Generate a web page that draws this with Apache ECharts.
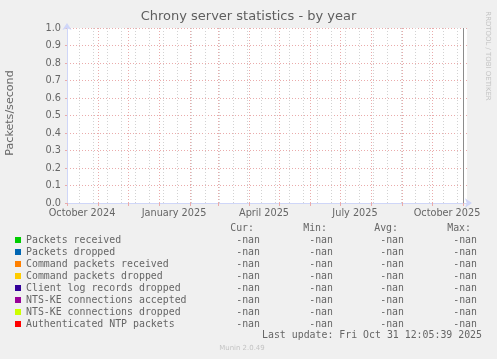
<!DOCTYPE html>
<html><head><meta charset="utf-8">
<script src="https://cdn.jsdelivr.net/npm/echarts@6/dist/echarts.min.js"></script>
<style>html,body{margin:0;padding:0;background:#f0f0f0;}#c{width:497px;height:359px;}</style>
</head><body><div id="c"></div>
<script>
// ---- data ----
const seriesNames = ['Packets received','Packets dropped','Command packets received','Command packets dropped','Client log records dropped','NTS-KE connections accepted','NTS-KE connections dropped','Authenticated NTP packets'];
const seriesColors = ['#00CC00','#0066B3','#FF8000','#FFCC00','#330099','#990099','#CCFF00','#FF0000'];
const curValues = [NaN,NaN,NaN,NaN,NaN,NaN,NaN,NaN];
const minValues = [NaN,NaN,NaN,NaN,NaN,NaN,NaN,NaN];
const avgValues = [NaN,NaN,NaN,NaN,NaN,NaN,NaN,NaN];
const maxValues = [NaN,NaN,NaN,NaN,NaN,NaN,NaN,NaN];
const columnHeaders = ['Cur:','Min:','Avg:','Max:'];
const xStart = '2024-10-01';
const xDays = 400;
const tickDates = ['2024-10-16','2025-01-16','2025-04-16','2025-07-16','2025-10-16'];
const tickLabels = ['October 2024','January 2025','April 2025','July 2025','October 2025'];
const minorGridStart = '2024-10-13';
const minorGridStepDays = 14;
const vruleDate = '2025-11-01';
const yMin = 0, yMax = 1, yStep = 0.1;
const titleText = 'Chrony server statistics - by year';
const yName = 'Packets/second';
const lastUpdate = 'Last update: Fri Oct 31 12:05:39 2025';
const watermark = 'RRDTOOL / TOBI OETIKER';
const footer = 'Munin 2.0.49';

// ---- build ----
const DAY = 86400000;
const days = [];
const t0 = Date.parse(xStart + 'T00:00:00Z');
for (let i = 0; i <= xDays; i++) days.push(new Date(t0 + i * DAY).toISOString().slice(0, 10));
const labelMap = {};
tickDates.forEach((d, i) => labelMap[d] = tickLabels[i]);
const fmt = v => (isNaN(v) ? '-nan' : v.toFixed(2));
const isMinor = (i, v) => { const d = (Date.parse(v + 'T00:00:00Z') - Date.parse(minorGridStart + 'T00:00:00Z')) / DAY; return d >= 0 && d % minorGridStepDays === 0; };
const isMonth = (i, v) => v.slice(8) === '01';

const FONT = 'DejaVu Sans';
const MONO = 'DejaVu Sans Mono';
const TXT = '#666666';
const AXIS = '#CFD6F8';
const MAJOR = '#eaabab';
const MINOR = '#d2d2d2';

const series = seriesNames.map((n, i) => ({
  name: n, type: 'line', data: [], color: seriesColors[i], showSymbol: false,
  xAxisIndex: 0, yAxisIndex: 0
}));
series[0].markLine = {
  silent: true, symbol: 'none', label: { show: false },
  lineStyle: { color: '#8c8c8c', type: 'solid', width: 1 },
  data: [{ xAxis: vruleDate }]
};

const chart = echarts.init(document.getElementById('c'), null, { renderer: 'canvas' });
chart.setOption({
  backgroundColor: '#f0f0f0',
  animation: false,
  title: {
    text: titleText, left: 'center', top: 10, padding: 0,
    textStyle: { fontFamily: FONT, fontSize: 13, fontWeight: 'normal', color: '#5e5e5e' }
  },
  grid: { left: 67, right: 30, top: 28, bottom: 156, containLabel: false, outerBoundsMode: 'none', backgroundColor: '#ffffff', show: true, borderWidth: 0 },
  xAxis: [{
    type: 'category', data: days, boundaryGap: false, position: 'bottom',
    axisLine: { show: true, lineStyle: { color: AXIS, width: 1 }, symbol: ['none', 'arrow'], symbolSize: [7, 7], symbolOffset: [0, 5] },
    axisTick: { show: false },
    splitLine: { show: true, interval: isMinor, lineStyle: { color: MINOR, type: [1, 2], width: 1 } },
    axisLabel: {
      show: true, interval: (i, v) => v in labelMap, formatter: v => labelMap[v] || '',
      fontFamily: FONT, fontSize: 9.72, color: TXT, margin: 5, hideOverlap: false
    }
  }, {
    type: 'category', data: days, boundaryGap: false, position: 'bottom',
    axisLine: { show: false },
    axisTick: { show: true, interval: isMonth, length: 3, lineStyle: { color: MAJOR } },
    splitLine: { show: true, interval: isMonth, lineStyle: { color: MAJOR, type: [1, 2], width: 1 } },
    axisLabel: { show: false }
  }],
  yAxis: [{
    type: 'value', min: yMin, max: yMax, interval: yStep,
    axisLine: { show: true, lineStyle: { color: AXIS, width: 1 }, symbol: ['none', 'arrow'], symbolSize: [7, 7], symbolOffset: [0, 5] },
    axisTick: { show: true, length: 2, lineStyle: { color: MAJOR } },
    splitLine: { show: true, lineStyle: { color: MAJOR, type: [1, 2], width: 1 } },
    axisLabel: { formatter: v => v.toFixed(1), fontFamily: FONT, fontSize: 9.72, color: TXT, margin: 6 }
  }],
  legend: {
    orient: 'vertical', left: 15, top: 234, padding: 0, itemGap: 0,
    itemWidth: 6, itemHeight: 6, icon: 'rect', selectedMode: false,
    data: seriesNames,
    formatter: name => {
      const i = seriesNames.indexOf(name);
      return '{n|' + name + '}{c|' + fmt(curValues[i]) + '}{m|' + fmt(minValues[i]) + '}{a|' + fmt(avgValues[i]) + '}{x|' + fmt(maxValues[i]) + '}';
    },
    textStyle: {
      fontFamily: MONO, fontSize: 9.9, color: TXT, lineHeight: 12,
      rich: {
        n: { width: 210, align: 'left', fontFamily: MONO, fontSize: 9.9, color: TXT, height: 12, lineHeight: 12 },
        c: { width: 24, align: 'right', fontFamily: MONO, fontSize: 9.9, color: TXT, height: 12, lineHeight: 12 },
        m: { width: 73, align: 'right', fontFamily: MONO, fontSize: 9.9, color: TXT, height: 12, lineHeight: 12 },
        a: { width: 71, align: 'right', fontFamily: MONO, fontSize: 9.9, color: TXT, height: 12, lineHeight: 12 },
        x: { width: 73, align: 'right', fontFamily: MONO, fontSize: 9.9, color: TXT, height: 12, lineHeight: 12 }
      }
    }
  },
  graphic: [
    { type: 'text', x: 10, y: 113, rotation: Math.PI / 2, style: { text: yName, font: '11.1px "' + FONT + '"', fill: TXT, align: 'center', verticalAlign: 'middle' } },
    { type: 'text', x: 488, y: 56, rotation: -Math.PI / 2, style: { text: watermark, font: '6.94px "' + FONT + '"', fill: '#c4c4c4', align: 'center', verticalAlign: 'middle' } },
    { type: 'text', x: 254, y: 228, style: { text: columnHeaders[0], font: '9.9px "' + MONO + '"', fill: TXT, align: 'right', verticalAlign: 'middle' } },
    { type: 'text', x: 327, y: 228, style: { text: columnHeaders[1], font: '9.9px "' + MONO + '"', fill: TXT, align: 'right', verticalAlign: 'middle' } },
    { type: 'text', x: 398, y: 228, style: { text: columnHeaders[2], font: '9.9px "' + MONO + '"', fill: TXT, align: 'right', verticalAlign: 'middle' } },
    { type: 'text', x: 471, y: 228, style: { text: columnHeaders[3], font: '9.9px "' + MONO + '"', fill: TXT, align: 'right', verticalAlign: 'middle' } },
    { type: 'text', x: 482, y: 335, style: { text: lastUpdate, font: '9.9px "' + MONO + '"', fill: TXT, align: 'right', verticalAlign: 'middle' } },
    { type: 'text', x: 242, y: 348, style: { text: footer, font: '6.94px "' + FONT + '"', fill: '#c4c4c4', align: 'center', verticalAlign: 'middle' } }
  ],
  series: series
});
</script>
</body></html>
